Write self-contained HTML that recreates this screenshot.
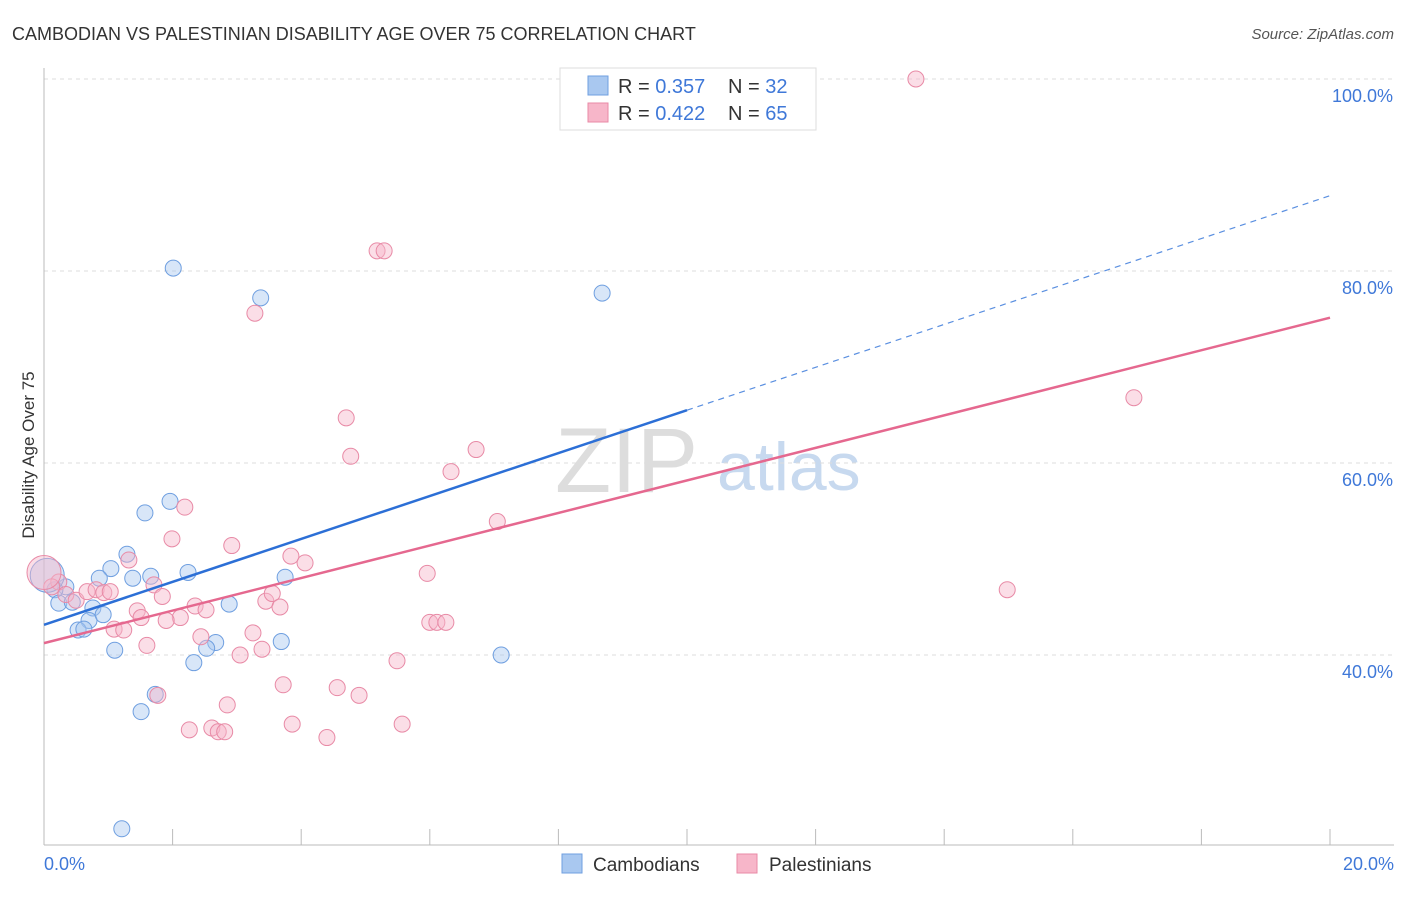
<!DOCTYPE html>
<html><head><meta charset="utf-8"><style>
body{margin:0;background:#fff;font-family:"Liberation Sans",sans-serif;}
svg text{font-family:"Liberation Sans",sans-serif;}
</style></head><body>
<svg id="c" width="1406" height="892" xmlns="http://www.w3.org/2000/svg">
<text x="12" y="40" font-size="18" fill="#333">CAMBODIAN VS PALESTINIAN DISABILITY AGE OVER 75 CORRELATION CHART</text>
<text x="1394" y="39" font-size="15" fill="#555" font-style="italic" text-anchor="end">Source: ZipAtlas.com</text>
<text x="34" y="455" font-size="17" fill="#333" text-anchor="middle" transform="rotate(-90 34 455)">Disability Age Over 75</text>
<g><text x="555" y="492" font-size="92" fill="#ddd" font-family="Liberation Serif">ZIP</text><text x="717" y="490" font-size="68" fill="#c7d9ef">atlas</text></g>
<g id="grid"></g><g id="pts"></g><g id="lines"></g>
<g>
<rect x="560" y="68" width="256" height="62" fill="#fff" stroke="#ddd"/>
<rect x="588" y="76" width="20" height="19" fill="#a9c8f0" stroke="#6f9fe0"/>
<text x="618" y="93" font-size="20" fill="#333">R = <tspan fill="#3f78d8">0.357</tspan></text>
<text x="728" y="93" font-size="20" fill="#333">N = <tspan fill="#3f78d8">32</tspan></text>
<rect x="588" y="103" width="20" height="19" fill="#f7b6c9" stroke="#e88aa6"/>
<text x="618" y="120" font-size="20" fill="#333">R = <tspan fill="#3f78d8">0.422</tspan></text>
<text x="728" y="120" font-size="20" fill="#333">N = <tspan fill="#3f78d8">65</tspan></text>
</g>
<g>
<rect x="562" y="854" width="20" height="19" fill="#a9c8f0" stroke="#6f9fe0"/>
<text x="593" y="871" font-size="19" fill="#333">Cambodians</text>
<rect x="737" y="854" width="20" height="19" fill="#f7b6c9" stroke="#e88aa6"/>
<text x="769" y="871" font-size="19" fill="#333">Palestinians</text>
</g>
</svg>
<script>
const yTicks=[40,60,80,100];
const yTickLabels=["40.0%","60.0%","80.0%","100.0%"];
const xTickLabels=["0.0%","20.0%"];
const cambX=[2.01,3.37,8.68,1.96,1.57,1.29,1.04,0.86,1.38,1.66,2.24,3.75,0.34,0.17,0.23,0.44,0.76,0.70,0.92,0.53,0.62,1.10,2.67,2.53,2.88,3.69,2.33,7.11,1.73,1.51,1.21,0.05];
const cambY=[80.3,77.2,77.7,56.0,54.8,50.5,49.0,48.0,48.0,48.2,48.6,48.1,47.1,46.8,45.4,45.5,44.9,43.6,44.2,42.6,42.7,40.5,41.3,40.7,45.3,41.4,39.2,40.0,35.9,34.1,21.9,48.3];
const palX=[13.56,5.18,5.29,3.28,4.70,4.77,6.72,6.33,7.05,16.95,2.19,1.99,2.92,1.32,3.84,4.06,5.96,14.98,0.23,0.12,0.34,0.50,0.67,0.81,0.93,1.03,1.71,1.84,1.45,1.51,2.35,2.52,2.12,1.90,3.45,3.55,3.67,1.09,1.24,1.60,2.44,3.25,3.39,3.05,6.00,6.11,6.25,5.49,3.72,4.56,4.90,1.77,2.85,3.86,5.57,2.26,2.61,2.71,2.81,4.40,0.0];
const palY=[100,82.1,82.1,75.6,64.7,60.7,61.4,59.1,53.9,66.8,55.4,52.1,51.4,49.9,50.3,49.6,48.5,46.8,47.6,47.1,46.3,45.7,46.6,46.8,46.5,46.6,47.3,46.1,44.6,43.9,45.1,44.7,43.9,43.6,45.6,46.4,45.0,42.7,42.6,41.0,41.9,42.3,40.6,40.0,43.4,43.4,43.4,39.4,36.9,36.6,35.8,35.8,34.8,32.8,32.8,32.2,32.4,32.0,32.0,31.4,48.6];
const NS="http://www.w3.org/2000/svg";
const X=v=>44+v*64.3, Y=v=>79+(100-v)*9.6;
function mk(t,a,p){const e=document.createElementNS(NS,t);for(const k in a)e.setAttribute(k,a[k]);p.appendChild(e);return e;}
const g=document.getElementById('grid');
yTicks.forEach((t,i)=>{
 const l=mk('line',{x1:44,x2:1394,y1:Y(t),y2:Y(t),stroke:'#ddd','stroke-dasharray':'4,4'},g);
 
 
 const tx=mk('text',{x:1393,y:Y(t)+23,'font-size':18,fill:'#3f78d8','text-anchor':'end'},g);tx.textContent=yTickLabels[i];
 
 
});
const ax=mk('line',{x1:44,x2:44,y1:68,y2:845,stroke:'#bbb'},g);


const bx=mk('line',{x1:44,x2:1394,y1:845,y2:845,stroke:'#bbb'},g);


for(let i=0;i<=10;i++){const t=mk('line',{x1:X(i*2),x2:X(i*2),y1:829,y2:845,stroke:'#bbb'},g);
 
 }
[[0,'start',44],[20,'end',1394]].forEach((d,i)=>{const t=mk('text',{x:d[2],y:870,'font-size':18,fill:'#3f78d8','text-anchor':d[1]},g);t.textContent=xTickLabels[i];
 
 });
const P=document.getElementById('pts');
function pts(xs,ys,fill,stroke,name){xs.forEach((x,i)=>{const big=i===xs.length-1&&x<0.1;
 const c=mk('circle',{cx:X(x),cy:Y(ys[i]),r:big?17:8,fill:fill,'fill-opacity':0.45,stroke:stroke,'stroke-width':1},P);
 
 });}
pts(cambX,cambY,'#a9c8f0','#6f9fe0','cambodian-point');
pts(palX,palY,'#f7b6c9','#e88aa6','palestinian-point');
function fit(xs,ys){const n=xs.length;let mx=0,my=0;xs.forEach((x,i)=>{mx+=x;my+=ys[i]});mx/=n;my/=n;let sxy=0,sxx=0;xs.forEach((x,i)=>{sxy+=(x-mx)*(ys[i]-my);sxx+=(x-mx)*(x-mx)});const b=sxy/sxx;return [my-b*mx,b];}
const L=document.getElementById('lines');
const cf=fit(cambX,cambY), pf=fit(palX,palY);
let e=mk('line',{x1:X(0),y1:Y(cf[0]),x2:X(10),y2:Y(cf[0]+10*cf[1]),stroke:'#2c6fd6','stroke-width':2.5},L);


e=mk('line',{x1:X(10),y1:Y(cf[0]+10*cf[1]),x2:X(20),y2:Y(cf[0]+20*cf[1]),stroke:'#5a8fe0','stroke-width':1.2,'stroke-dasharray':'6,5'},L);


e=mk('line',{x1:X(0),y1:Y(pf[0]),x2:X(20),y2:Y(pf[0]+20*pf[1]),stroke:'#e5688f','stroke-width':2.5},L);


</script>
</body></html>
